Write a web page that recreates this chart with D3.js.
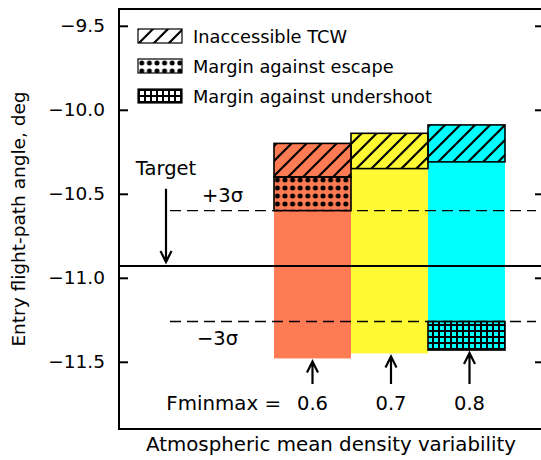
<!DOCTYPE html>
<html>
<head>
<meta charset="utf-8">
<script src="https://cdn.jsdelivr.net/npm/d3@7"></script>
<style>
  body { margin: 0; background: #fff; }
  text { font-family: "DejaVu Sans", sans-serif; fill: #000; }
</style>
</head>
<body>
<svg id="chart" width="541" height="460"></svg>
<script>
// Data
var fminmax = ["0.6", "0.7", "0.8"];
var barColors = ["#ff7b54", "#fffa33", "#00ffff"];
var rangeLow = [-11.48, -11.45, -11.43];      // lowest reachable angle
var tcwLow = [-10.40, -10.35, -10.31];        // inaccessible TCW region
var tcwHigh = [-10.20, -10.14, -10.09];
var escapeLow = [-10.60, null, null];         // margin against escape
var escapeHigh = [-10.40, null, null];
var undershootLow = [null, null, -11.43];     // margin against undershoot
var undershootHigh = [null, null, -11.26];
var yTicks = [-9.5, -10.0, -10.5, -11.0, -11.5];
var target = -10.93;
var targetArrowFrom = -10.47;
var plus3sigma = -10.60;
var minus3sigma = -11.26;

var svg = d3.select("#chart");

var pLeft = 119, pRight = 544, pTop = 9, pBottom = 429;

var y = d3.scaleLinear().domain([-11.9, -9.4]).range([pBottom, pTop]);
var x = d3.scaleBand().domain(fminmax).range([274, 505]).padding(0);

// patterns
var defs = svg.append("defs");
var hatch = defs.append("pattern").attr("id", "hatch")
  .attr("patternUnits", "userSpaceOnUse").attr("width", 15).attr("height", 15);
hatch.append("path")
  .attr("d", "M0,15 L15,0 M-4,4 L4,-4 M11,19 L19,11")
  .attr("stroke", "black").attr("stroke-width", 2.2);

var dots = defs.append("pattern").attr("id", "dots")
  .attr("patternUnits", "userSpaceOnUse").attr("width", 7.6).attr("height", 8);
dots.append("circle").attr("cx", 3.8).attr("cy", 4).attr("r", 2.5).attr("fill", "black");

var grid = defs.append("pattern").attr("id", "grid")
  .attr("patternUnits", "userSpaceOnUse").attr("width", 6).attr("height", 6);
grid.append("path").attr("d", "M0,1 H6 M1,0 V6")
  .attr("stroke", "black").attr("stroke-width", 2);

// coloured ranges
svg.append("g").selectAll("rect")
  .data(fminmax)
  .enter().append("rect")
    .attr("x", function(d) { return x(d); })
    .attr("width", x.bandwidth())
    .attr("y", function(d, i) { return y(tcwHigh[i]); })
    .attr("height", function(d, i) { return y(rangeLow[i]) - y(tcwHigh[i]); })
    .attr("fill", function(d, i) { return barColors[i]; });

// patterned segments
function segments(lo, hi, pat) {
  svg.append("g").selectAll("rect")
    .data(fminmax.filter(function(d, i) { return lo[i] !== null; }))
    .enter().append("rect")
      .attr("x", function(d) { return x(d); })
      .attr("width", x.bandwidth())
      .attr("y", function(d) { return y(hi[fminmax.indexOf(d)]); })
      .attr("height", function(d) { var i = fminmax.indexOf(d); return y(lo[i]) - y(hi[i]); })
      .attr("fill", "url(#" + pat + ")")
      .attr("stroke", "black")
      .attr("stroke-width", 1.6);
}
segments(tcwLow, tcwHigh, "hatch");
segments(escapeLow, escapeHigh, "dots");
segments(undershootLow, undershootHigh, "grid");

// sigma lines
[plus3sigma, minus3sigma].forEach(function(v) {
  svg.append("line")
    .attr("x1", 170).attr("x2", 536)
    .attr("y1", y(v)).attr("y2", y(v))
    .attr("stroke", "black").attr("stroke-width", 1.4)
    .attr("stroke-dasharray", "11,6");
});

svg.append("text").attr("x", 202).attr("y", y(plus3sigma) - 9)
  .style("font-size", "19.5px").text("+3σ");
svg.append("text").attr("x", 197).attr("y", y(minus3sigma) + 24)
  .style("font-size", "19.5px").text("\u22123σ");

// target line
svg.append("line")
  .attr("x1", pLeft).attr("x2", pRight)
  .attr("y1", y(target)).attr("y2", y(target))
  .attr("stroke", "black").attr("stroke-width", 2);

function arrow(xp, y0, y1) {
  var dir = y1 > y0 ? 1 : -1;
  svg.append("path")
    .attr("d", "M" + xp + "," + y0 + " L" + xp + "," + y1 +
      " M" + (xp - 5.5) + "," + (y1 - dir * 11) + " L" + xp + "," + y1 + " L" + (xp + 5.5) + "," + (y1 - dir * 11))
    .attr("fill", "none").attr("stroke", "black").attr("stroke-width", 2.2);
}

arrow(166, y(targetArrowFrom), y(target) - 4);
svg.append("text").attr("x", 166).attr("y", 175).attr("text-anchor", "middle")
  .style("font-size", "19.5px").text("Target");

// Fminmax arrows and labels
fminmax.forEach(function(d, i) {
  var cx = x(d) + x.bandwidth() / 2 + i * 1.5;
  arrow(cx, 384, y(rangeLow[i]) + 3);
  svg.append("text").attr("x", cx).attr("y", 410).attr("text-anchor", "middle")
    .style("font-size", "19.5px").text(d);
});
svg.append("text").attr("x", 281).attr("y", 410).attr("text-anchor", "end")
  .style("font-size", "19.8px").text("Fminmax =");

// legend
var legendItems = [
  { label: "Inaccessible TCW", pat: "hatch" },
  { label: "Margin against escape", pat: "dots" },
  { label: "Margin against undershoot", pat: "grid" }
];
var lg = svg.append("g").selectAll("g")
  .data(legendItems)
  .enter().append("g")
    .attr("transform", function(d, i) { return "translate(138," + (29 + i * 30) + ")"; });
lg.append("rect").attr("width", 44).attr("height", 14).attr("fill", "white");
lg.append("rect").attr("width", 44).attr("height", 14)
  .attr("fill", function(d) { return "url(#" + d.pat + ")"; })
  .attr("stroke", "black").attr("stroke-width", 1.2);
lg.append("text").attr("x", 55).attr("y", 14)
  .style("font-size", "17.8px").text(function(d) { return d.label; });

// axes frame and ticks
svg.append("rect")
  .attr("x", pLeft).attr("y", pTop)
  .attr("width", pRight - pLeft).attr("height", pBottom - pTop)
  .attr("fill", "none").attr("stroke", "black").attr("stroke-width", 2);

var yAxis = svg.append("g")
  .attr("transform", "translate(" + pLeft + ",0)")
  .call(d3.axisLeft(y).tickValues(yTicks).tickSizeInner(-9).tickSizeOuter(0).tickPadding(14)
    .tickFormat(function(d) { return d3.format(".1f")(d).replace("-", "\u2212"); }));
yAxis.select(".domain").remove();
yAxis.selectAll("line").attr("stroke-width", 2);
yAxis.selectAll("text").style("font-size", "18.5px").style("font-family", "DejaVu Sans");

var yAxisR = svg.append("g")
  .attr("transform", "translate(" + pRight + ",0)")
  .call(d3.axisRight(y).tickValues(yTicks).tickSizeInner(-9).tickSizeOuter(0).tickFormat(""));
yAxisR.select(".domain").remove();
yAxisR.selectAll("line").attr("stroke-width", 2);

// axis titles
svg.append("text")
  .attr("transform", "translate(25," + ((pTop + pBottom) / 2) + ") rotate(-90)")
  .attr("text-anchor", "middle")
  .style("font-size", "18.5px")
  .text("Entry flight-path angle, deg");

svg.append("text")
  .attr("x", 331).attr("y", 451).attr("text-anchor", "middle")
  .style("font-size", "19.8px")
  .text("Atmospheric mean density variability");
</script>
</body>
</html>
